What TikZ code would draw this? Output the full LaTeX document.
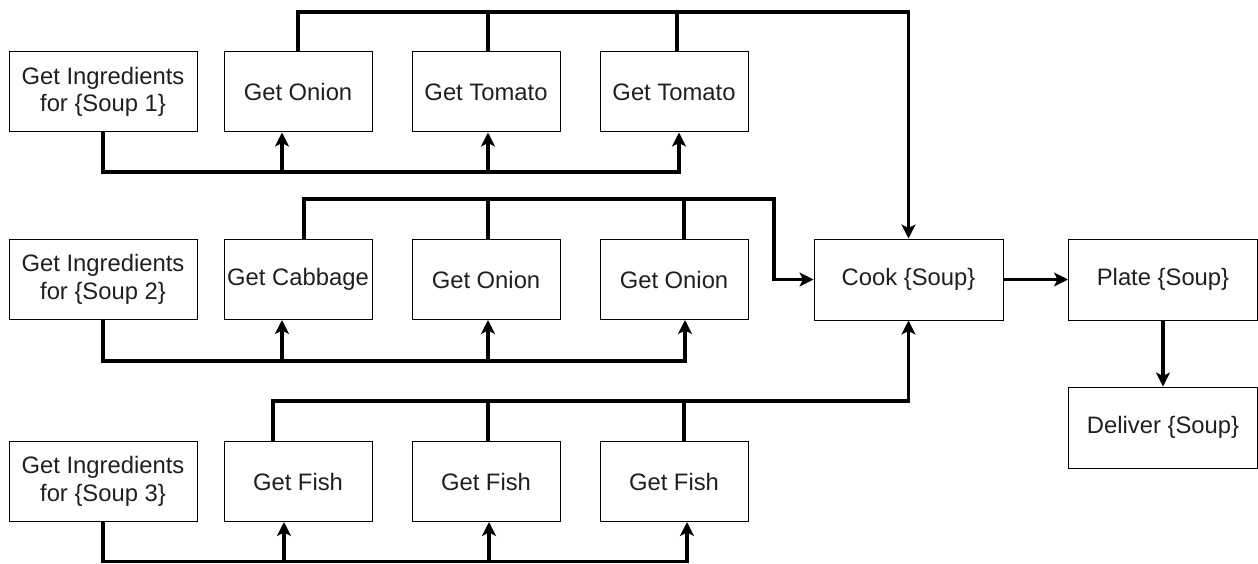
\documentclass[tikz,border=0pt]{standalone}
\usepackage{fontspec}
\setmainfont{Liberation Sans}
\usetikzlibrary{arrows.meta}
\begin{document}
\begin{tikzpicture}[x=1pt,y=-1pt,
  box/.style={draw=black, line width=1pt, minimum width=148pt, minimum height=80pt, inner sep=0pt, align=center, text=black!88, font=\fontsize{23.8}{27.6}\selectfont},
  ingbox/.style={box, minimum width=188pt},
  wide/.style={box, minimum width=189pt, minimum height=81pt},
  conn/.style={line width=3.6pt, draw=black},
  arr/.style={conn, -{Stealth[length=14pt, width=14pt, inset=3.5pt]}}]
\useasboundingbox (0,0) rectangle (1258,564);
% row 1
\node[ingbox] (ing1) at (103,92) {Get Ingredients\\for \{Soup 1\}};
\node[box] (a1) at (298,92) {Get Onion};
\node[box] (a2) at (486,92) {Get Tomato};
\node[box] (a3) at (674,92) {Get Tomato};
% row 2
\node[ingbox] (ing2) at (103,279.5) {Get Ingredients\\for \{Soup 2\}};
\node[box] (b1) at (298,279.5) {Get Cabbage};
\node[box] (b2) at (486,279.5) {Get Onion};
\node[box] (b3) at (674,279.5) {Get Onion};
% row 3
\node[ingbox] (ing3) at (103,481.5) {Get Ingredients\\for \{Soup 3\}};
\node[box] (c1) at (298,481.5) {Get Fish};
\node[box] (c2) at (486,481.5) {Get Fish};
\node[box] (c3) at (674,481.5) {Get Fish};
% right side
\node[wide] (cook) at (908.5,279.5) {Cook \{Soup\}};
\node[wide] (plate) at (1163,279.5) {Plate \{Soup\}};
\node[wide] (deliver) at (1163,427.5) {Deliver \{Soup\}};
% bus corners
\coordinate (t1) at (908.5,12);
\coordinate (t2) at (774,199);
\coordinate (t3) at (908.5,401);
\coordinate (d1) at (679,172);
\coordinate (d2) at (685,361);
\coordinate (d3) at (687,561.5);
% row 1 outputs
\draw[arr] (a1.north) |- (t1) -- (cook.north);
\draw[conn] ([xshift=2]a2.north) -- ([xshift=2]a2.north |- t1);
\draw[conn] ([xshift=3]a3.north) -- ([xshift=3]a3.north |- t1);
% row 2 outputs
\draw[arr] ([xshift=6]b1.north) |- (t2) |- (cook.west);
\draw[conn] ([xshift=2]b2.north) -- ([xshift=2]b2.north |- t2);
\draw[conn] ([xshift=10]b3.north) -- ([xshift=10]b3.north |- t2);
% row 3 outputs
\draw[arr] ([xshift=-25]c1.north) |- (t3) -- (cook.south);
\draw[conn] ([xshift=2]c2.north) -- ([xshift=2]c2.north |- t3);
\draw[conn] ([xshift=10]c3.north) -- ([xshift=10]c3.north |- t3);
% row 1 inputs
\draw[arr] (ing1.south) |- (d1) -- (d1 |- a3.south);
\draw[arr] ([xshift=-16]a1.south |- d1) -- ([xshift=-16]a1.south);
\draw[arr] ([xshift=2]a2.south |- d1) -- ([xshift=2]a2.south);
% row 2 inputs
\draw[arr] (ing2.south) |- (d2) -- (d2 |- b3.south);
\draw[arr] ([xshift=-16]b1.south |- d2) -- ([xshift=-16]b1.south);
\draw[arr] ([xshift=2]b2.south |- d2) -- ([xshift=2]b2.south);
% row 3 inputs
\draw[arr] (ing3.south) |- (d3) -- (d3 |- c3.south);
\draw[arr] ([xshift=-14]c1.south |- d3) -- ([xshift=-14]c1.south);
\draw[arr] ([xshift=3]c2.south |- d3) -- ([xshift=3]c2.south);
% final chain
\draw[arr] (cook.east) -- (plate.west);
\draw[arr] (plate.south) -- (deliver.north);
\end{tikzpicture}
\end{document}
